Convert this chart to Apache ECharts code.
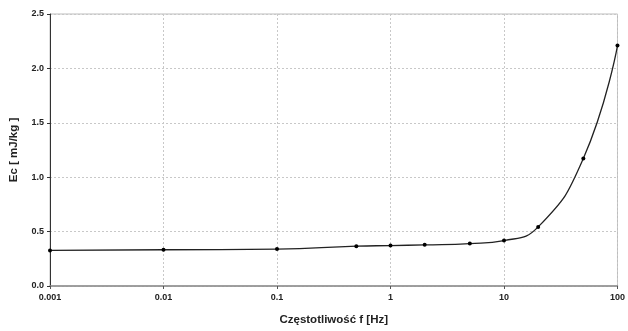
<!DOCTYPE html>
<html>
<head>
<meta charset="utf-8">
<script src="https://cdn.jsdelivr.net/npm/echarts@6/dist/echarts.min.js"></script>
<style>
  html, body { margin: 0; padding: 0; background: #fff; }
  #chart { width: 628px; height: 331px; }
</style>
</head>
<body>
<div id="chart"></div>
<script>
// frequency [Hz] and Ec [mJ/kg]
const freq = [0.001, 0.01, 0.1, 0.5, 1, 2, 5, 10, 20, 50, 100];
const ec = [0.327, 0.333, 0.339, 0.366, 0.372, 0.378, 0.39, 0.418, 0.543, 1.172, 2.21];

(function () {
    let chart = echarts.init(document.querySelector("#chart"));
    const font = 'Liberation Sans, Arial, sans-serif';

    let option = {
        animation: false,
        grid: {
            left: 50, right: 7, top: 14, bottom: 44,
            show: true,
            borderColor: '#bdbdbd',
            borderWidth: 1
        },
        xAxis: {
            type: 'log',
            logBase: 10,
            min: 0.001,
            max: 100,
            name: 'Częstotliwość f [Hz]',
            nameLocation: 'middle',
            nameGap: 28,
            nameTextStyle: { fontFamily: font, fontWeight: 'bold', fontSize: 11.5, color: '#222' },
            axisLine: { lineStyle: { color: '#8a8a8a', width: 1.5 } },
            axisTick: { show: true, length: 3, lineStyle: { color: '#555' } },
            minorTick: { show: false },
            axisLabel: {
                fontFamily: font, fontWeight: 'bold', fontSize: 9, color: '#222', margin: 7,
                formatter: function (v) { return String(v); }
            },
            splitLine: { show: true, lineStyle: { color: '#c8c8c8', type: [2, 2], width: 1 } }
        },
        yAxis: {
            type: 'value',
            min: 0,
            max: 2.5,
            interval: 0.5,
            name: 'Ec [ mJ/kg ]',
            nameLocation: 'middle',
            nameGap: 30,
            nameRotate: 90,
            nameTextStyle: { fontFamily: font, fontWeight: 'bold', fontSize: 11.5, color: '#222' },
            axisLine: { show: true, lineStyle: { color: '#333', width: 1 } },
            axisTick: { show: true, length: 3, lineStyle: { color: '#333' } },
            axisLabel: {
                fontFamily: font, fontWeight: 'bold', fontSize: 9, color: '#222', margin: 6,
                formatter: function (v) { return v.toFixed(1); }
            },
            splitLine: { show: true, lineStyle: { color: '#c8c8c8', type: [2, 2], width: 1 } }
        },
        series: [
            {
                type: 'line',
                data: freq.map((f, i) => [f, ec[i]]),
                smooth: 0.5,
                symbol: 'circle',
                symbolSize: 4,
                lineStyle: { color: '#222', width: 1.3 },
                itemStyle: { color: '#000' }
            }
        ]
    };

    chart.setOption(option);
})();
</script>
</body>
</html>
